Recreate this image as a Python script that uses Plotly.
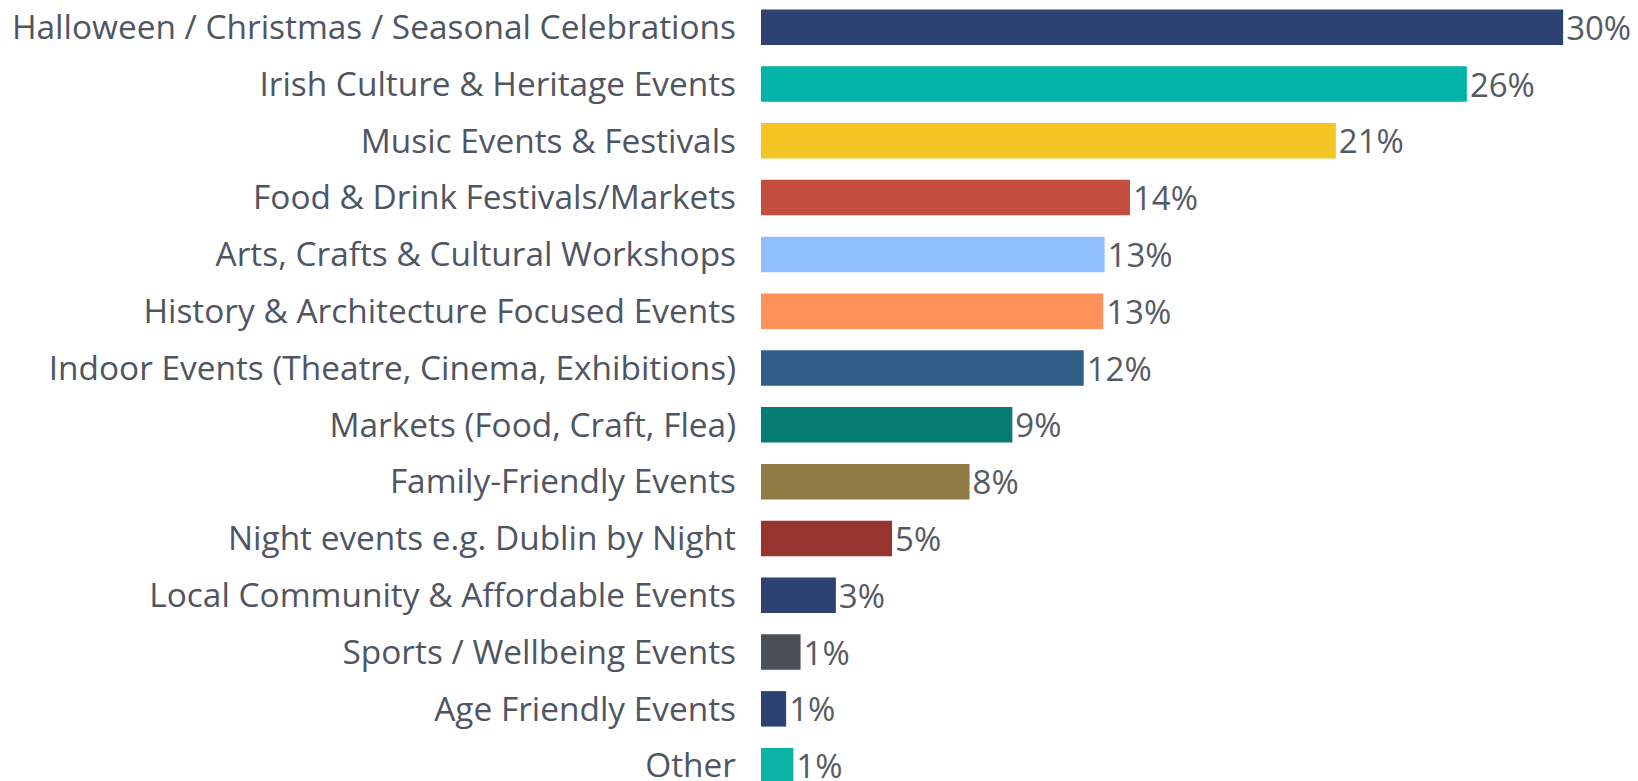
import plotly.graph_objects as go

categories = [
    "Halloween / Christmas / Seasonal Celebrations",
    "Irish Culture & Heritage Events",
    "Music Events & Festivals",
    "Food & Drink Festivals/Markets",
    "Arts, Crafts & Cultural Workshops",
    "History & Architecture Focused Events",
    "Indoor Events (Theatre, Cinema, Exhibitions)",
    "Markets (Food, Craft, Flea)",
    "Family-Friendly Events",
    "Night events e.g. Dublin by Night",
    "Local Community & Affordable Events",
    "Sports / Wellbeing Events",
    "Age Friendly Events",
    "Other",
]
values = [30.0, 26.4, 21.5, 13.8, 12.85, 12.8, 12.07, 9.4, 7.8, 4.9, 2.8, 1.48, 0.94, 1.21]
labels = ["30%", "26%", "21%", "14%", "13%", "13%", "12%", "9%", "8%", "5%", "3%", "1%", "1%", "1%"]
colors = ["#2c4372", "#02b3a7", "#f5c523", "#c44f41", "#8fbfff", "#ff9159", "#325e8a",
          "#047c73", "#8f7b44", "#963530", "#2c4372", "#4b4f58", "#2c4372", "#0ab3a6"]

fig = go.Figure(go.Bar(
    x=values, y=categories, orientation="h",
    marker=dict(color=colors, line=dict(width=0)),
    text=labels, textposition="outside", cliponaxis=False, constraintext="none",
    textfont=dict(family="Open Sans", size=33, color="#555a63"),
    hoverinfo="skip",
))

fig.update_layout(
    width=1630, height=773,
    margin=dict(l=753, r=0, t=0, b=0, autoexpand=False),
    paper_bgcolor="white", plot_bgcolor="white",
    bargap=0.375,
    showlegend=False,
    font=dict(family="Open Sans", size=33, color="#4f5562"),
    xaxis=dict(range=[0, 32.8], visible=False, showgrid=False, zeroline=False),
    yaxis=dict(categoryorder="array", categoryarray=categories,
               range=[13.27, -0.338], showgrid=False, zeroline=False,
               showline=False, ticks="", ticklabelstandoff=24,
               tickfont=dict(family="Open Sans", size=33.4, color="#4f5562")),
)

fig.write_html("out.html")
